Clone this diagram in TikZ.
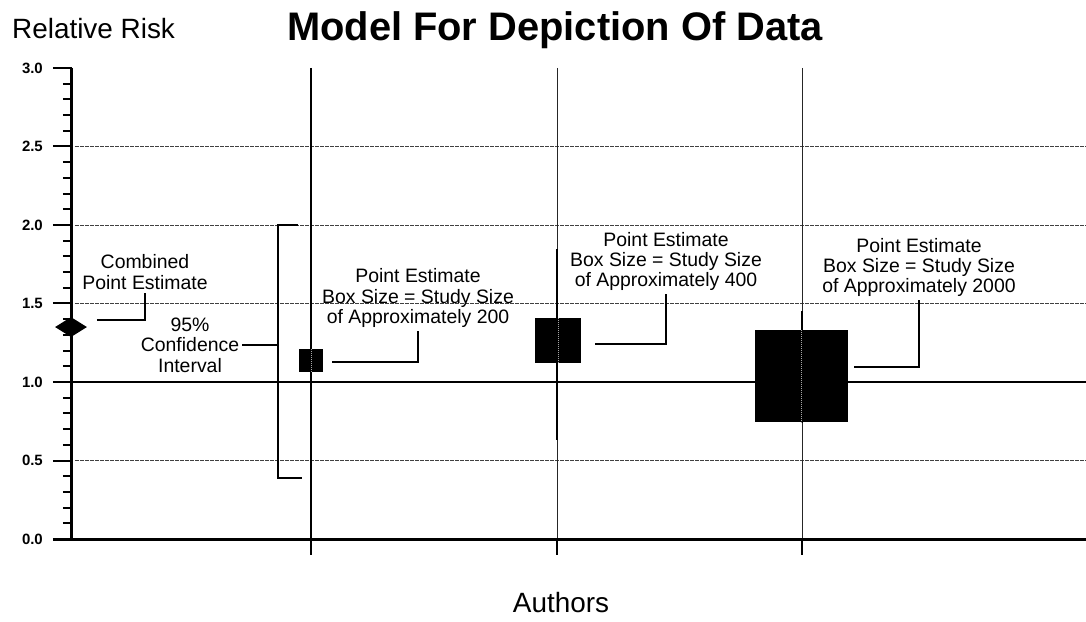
\documentclass[tikz,border=0pt]{standalone}
\usepackage{fontspec}
\setmainfont{Liberation Sans}
\usetikzlibrary{shapes.geometric}
\begin{document}
\begin{tikzpicture}[x=1bp, y=157bp,
    grid/.style={black!75, line width=0.9bp, dash pattern=on 4bp off 1bp},
    author/.style={black!85, line width=1bp},
    ci/.style={black, line width=2.8bp},
    lead/.style={black, line width=2bp},
    tick/.style={black, line width=2bp},
    ticklab/.style={font=\bfseries\fontsize{15}{15}\selectfont, anchor=east, inner sep=0pt},
    note/.style={font=\fontsize{19.5}{20.5}\selectfont, align=center, inner sep=3bp},
    estbox/.style={fill=black, inner sep=0pt},
    boxline/.style={black!35, line width=1bp, densely dotted}]
    \useasboundingbox (-72,-0.5223) rectangle (1014,3.4331);
        \node[anchor=base] (title) at (483,3.178) {\bfseries\fontsize{40}{40}\selectfont Model For Depiction Of Data};
        \node[anchor=base west, inner sep=0pt] (yname) at (-60,3.185) {\fontsize{28}{28}\selectfont Relative Risk};
        \node[anchor=base] (xname) at (489,-0.465) {\fontsize{28}{28}\selectfont Authors};
        \node[ticklab] (t30) at (-29,3) {3.0};
        \node[ticklab] (t25) at (-29,2.5) {2.5};
        \node[ticklab] (t20) at (-29,2) {2.0};
        \node[ticklab] (t15) at (-29,1.5) {1.5};
        \node[ticklab] (t10) at (-29,1) {1.0};
        \node[ticklab] (t05) at (-29,0.5) {0.5};
        \node[ticklab] (t00) at (-29,0) {0.0};
        \draw[grid] (3,2.5) -- (1014,2.5);
        \draw[grid] (3,2) -- (1014,2);
        \draw[grid] (3,1.5) -- (1014,1.5);
        \draw[grid] (3,0.5) -- (1014,0.5);
        \draw[line width=2.2bp] (0,1) -- (1014,1);
        \draw[line width=2bp] (239,3) -- (239,-0.1);
        \draw[author] (485,3) -- (485,0);
        \draw[author] (730,3) -- (730,0);
        \draw[ci] (485,1.85) -- (485,0.63);
        \draw[ci] (730,1.45) -- (730,0.74);
        \draw[tick] (485,0) -- (485,-0.1);
        \draw[tick] (730,0) -- (730,-0.1);
        \node[estbox, minimum width=24bp, minimum height=23bp] (box1) at (239,1.137) {};
        \node[estbox, minimum width=46bp, minimum height=45bp] (box2) at (486,1.264) {};
        \node[estbox, minimum width=93bp, minimum height=92bp] (box3) at (729,1.038) {};
        \draw[boxline] (box1.north) -- (box1.south);
        \draw[boxline] (box2.north) -- (box2.south);
        \draw[boxline] (box3.north) -- (box3.south);
        \node[diamond, fill=black, minimum width=32bp, minimum height=20bp, inner sep=0pt] (comb) at (-1,1.35) {};
        \node[note] (lblComb) at (73,1.70) {Combined\\Point Estimate};
        \node[note] (lblCI) at (118,1.236) {95\%\\Confidence\\Interval};
        \node[note] (lblA) at (346,1.535) {Point Estimate\\Box Size = Study Size\\of Approximately 200};
        \node[note] (lblB) at (594,1.768) {Point Estimate\\Box Size = Study Size\\of Approximately 400};
        \node[note] (lblC) at (847,1.729) {Point Estimate\\Box Size = Study Size\\of Approximately 2000};
        \coordinate (combEnd) at (25,1.395);
        \coordinate (aEnd) at (260,1.127);
        \coordinate (bEnd) at (523,1.242);
        \coordinate (cEnd) at (782,1.096);
        \coordinate (ciTop) at (206,2);
        \coordinate (ciBot) at (206,0.39);
        \draw[lead] (combEnd) -| (lblComb.south);
        \draw[lead] (aEnd) -| (lblA.south);
        \draw[lead] (bEnd) -| (lblB.south);
        \draw[lead] (cEnd) -| (lblC.south);
        \draw[lead] (lblCI.east) -- (lblCI.east -| ciTop);
        \draw[lead] ([xshift=20bp]ciTop) -- (ciTop) -- (ciBot) -- ([xshift=24bp]ciBot);
        \foreach \v in {1,...,29} \draw[tick] (-9,\v/10) -- (0,\v/10);
        \draw[tick] (-19,3) -- (0,3);
        \draw[tick] (-19,2.5) -- (0,2.5);
        \draw[tick] (-19,2) -- (0,2);
        \draw[tick] (-19,1.5) -- (0,1.5);
        \draw[tick] (-19,1) -- (0,1);
        \draw[tick] (-19,0.5) -- (0,0.5);
        \draw[line width=3bp] (0,3) -- (0,0);
        \draw[line width=3bp] (-19,0) -- (1014,0);
    \end{tikzpicture}
\end{document}
